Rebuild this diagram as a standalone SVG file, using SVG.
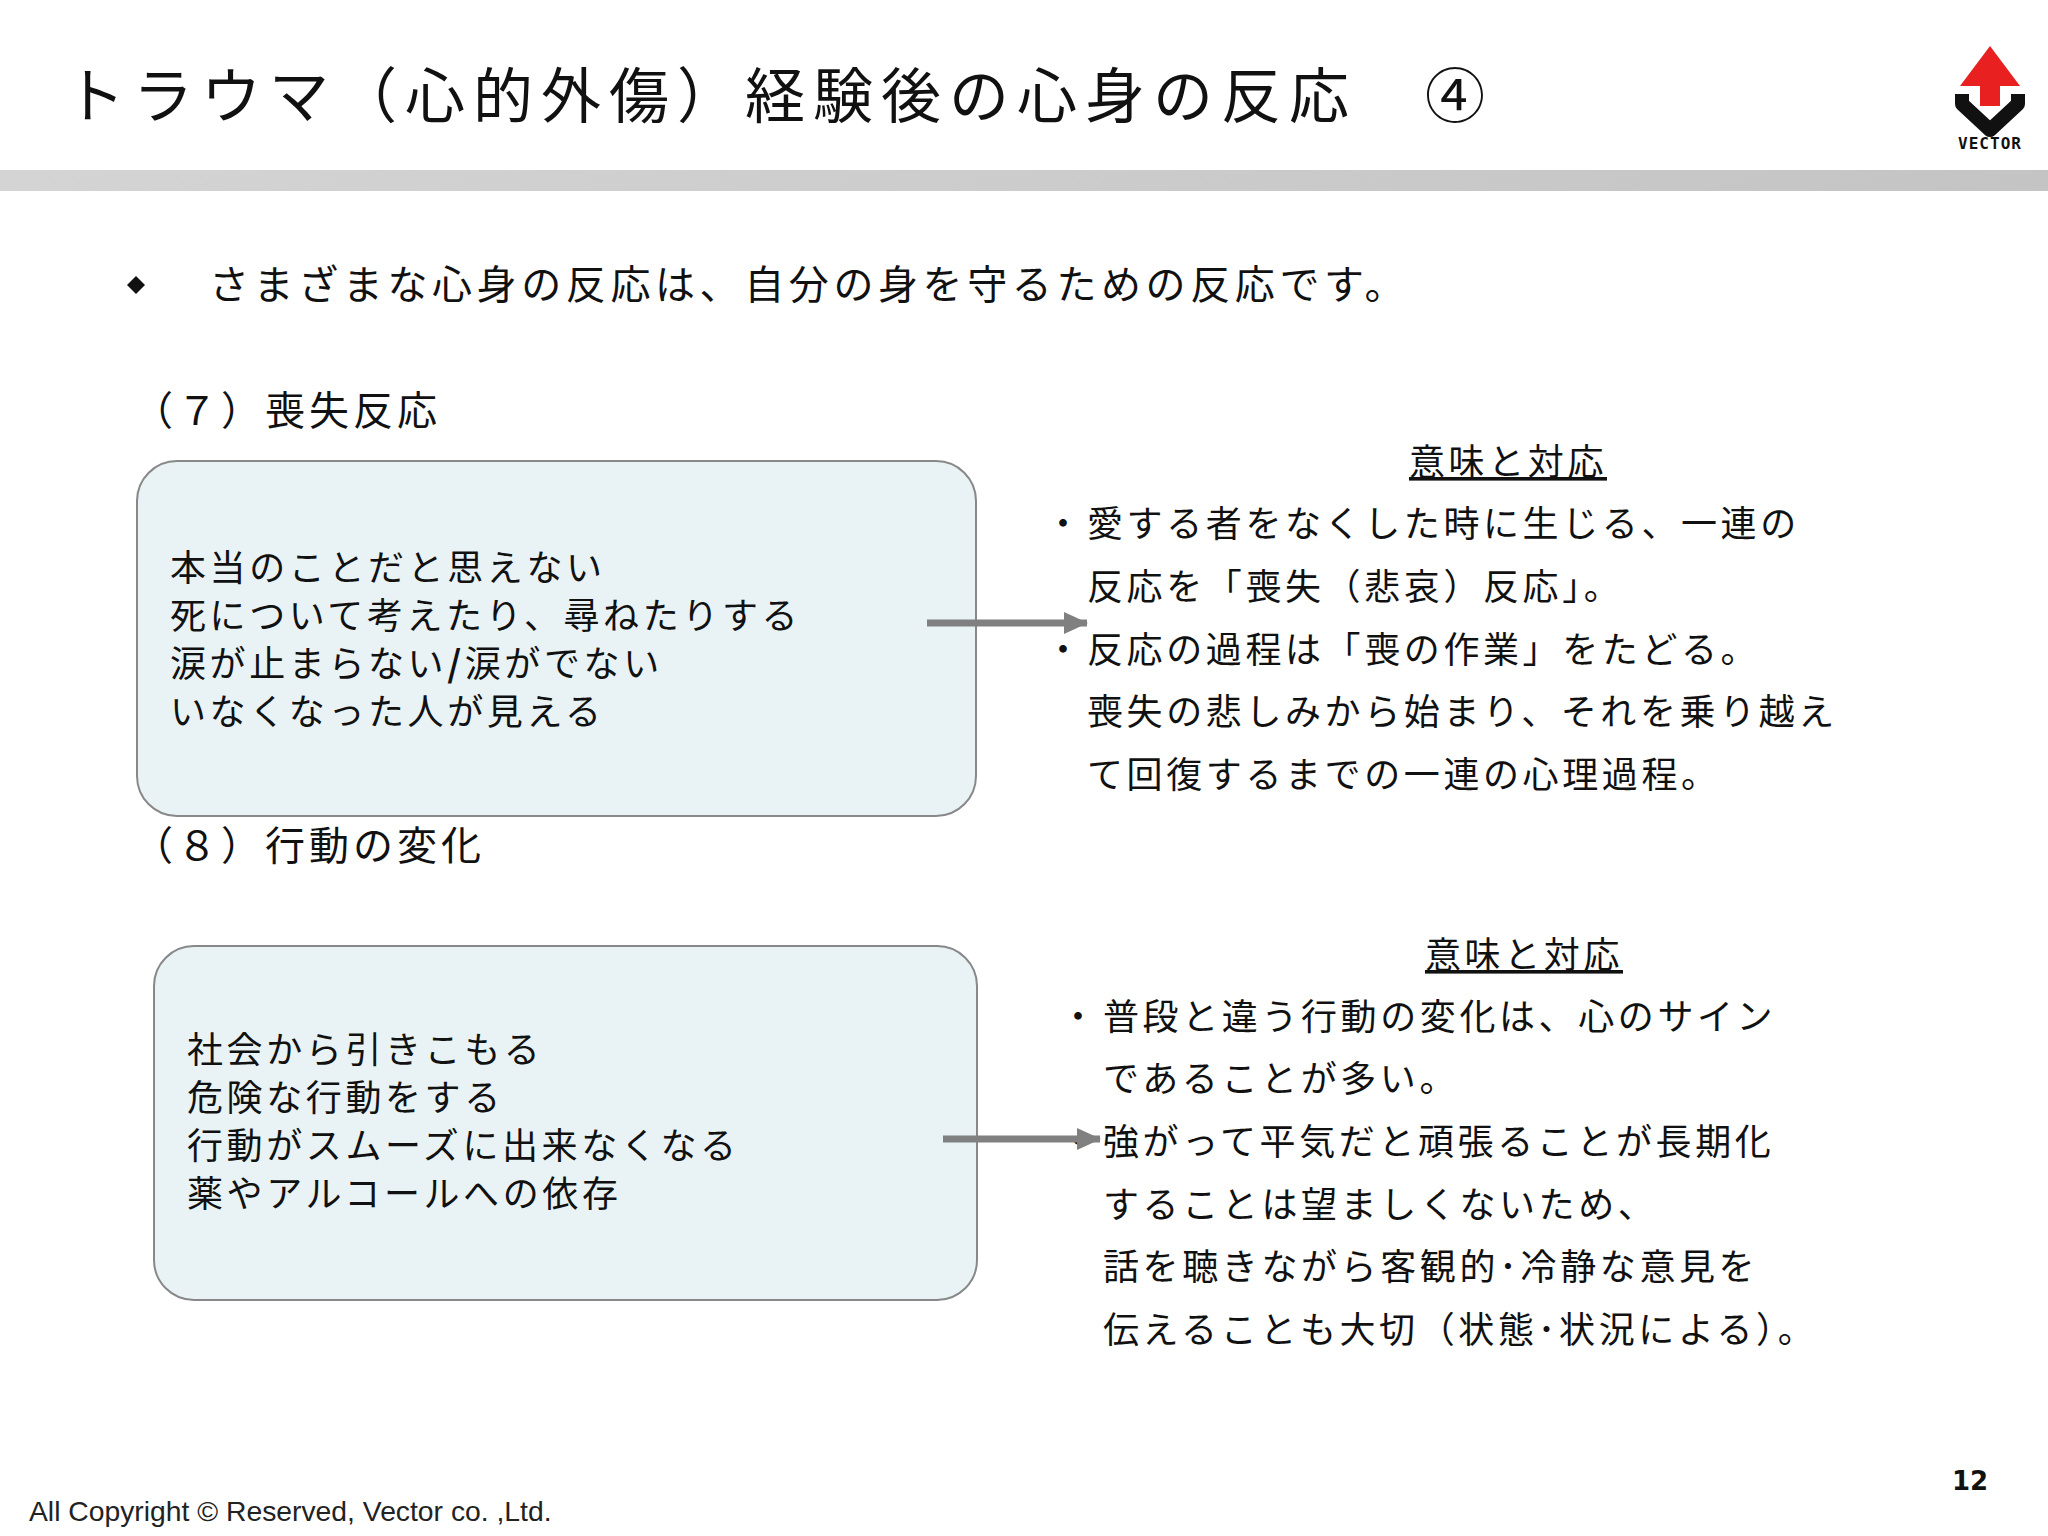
<svg xmlns="http://www.w3.org/2000/svg" width="2048" height="1536" viewBox="0 0 2048 1536">
<defs>
<linearGradient id="bar" x1="0" x2="1" y1="0" y2="0"><stop offset="0" stop-color="#d4d4d4"/><stop offset="1" stop-color="#c4c4c4"/></linearGradient>
<marker id="ah" markerWidth="24" markerHeight="22" refX="23" refY="11" orient="auto" markerUnits="userSpaceOnUse"><path d="M0,0 L24,11 L0,22 Z" fill="#808080"/></marker>
</defs>
<style>
text{font-family:"Noto Sans CJK JP","Noto Sans",sans-serif;fill:#111}
.t{font-size:60px;letter-spacing:8px}
.b{font-size:36px;letter-spacing:3.6px}
.h{font-size:40px;letter-spacing:4px}
.u{text-decoration:underline}
.box{fill:#e9f3f5;stroke:#888;stroke-width:2}
.con{stroke:#808080;stroke-width:7;fill:none}
</style>
<rect width="2048" height="1536" fill="#fff"/>
<text class="t" x="65" y="118">トラウマ（心的外傷）経験後の心身の反応　④</text>
<rect x="0" y="170" width="2048" height="21" fill="url(#bar)"/>
<g id="logo">
<polygon points="1990,46 2020,86 1960,86" fill="#e82020"/>
<rect x="1980" y="84" width="20" height="22" fill="#e82020"/>
<path d="M1962,94 L1962,104 L1990,130 L2018,104 L2018,94" fill="none" stroke="#111" stroke-width="14" stroke-linejoin="round"/>
<text x="1990" y="149" text-anchor="middle" style="font-family:'DejaVu Sans Mono',monospace;font-size:16px;font-weight:bold;letter-spacing:1px">VECTOR</text>
</g>
<polygon points="136,276 145,285 136,294 127,285" fill="#111"/>
<text x="209" y="299" style="font-size:40px;letter-spacing:4.6px">さまざまな心身の反応は、自分の身を守るための反応です。</text>
<text class="h" x="133" y="425">（７）喪失反応</text>
<text class="h" x="133" y="860">（８）行動の変化</text>
<g id="box1">
<rect class="box" x="137" y="461" width="839" height="355" rx="40"/>
<text class="b" x="170" y="581">本当のことだと思えない</text>
<text class="b" x="170" y="629">死について考えたり、尋ねたりする</text>
<text class="b" x="170" y="677">涙が止まらない<tspan font-weight="bold">/</tspan>涙がでない</text>
<text class="b" x="170" y="725">いなくなった人が見える</text>
</g>
<g id="box2">
<rect class="box" x="154" y="946" width="823" height="354" rx="40"/>
<text class="b" x="187" y="1063">社会から引きこもる</text>
<text class="b" x="187" y="1111">危険な行動をする</text>
<text class="b" x="187" y="1159">行動がスムーズに出来なくなる</text>
<text class="b" x="187" y="1207">薬やアルコールへの依存</text>
</g>
<g id="right1">
<text class="b u" x="1508" y="475" text-anchor="middle">意味と対応</text>
<text class="b" x="1045" y="537">・</text>
<text class="b" x="1087" y="537">愛する者をなくした時に生じる、一連の</text>
<text class="b" x="1087" y="600">反応を「喪失（悲哀）反応」。</text>
<text class="b" x="1045" y="663">・</text>
<text class="b" x="1087" y="663">反応の過程は「喪の作業」をたどる。</text>
<text class="b" x="1087" y="725">喪失の悲しみから始まり、それを乗り越え</text>
<text class="b" x="1087" y="788">て回復するまでの一連の心理過程。</text>
</g>
<g id="right2">
<text class="b u" x="1524" y="968" text-anchor="middle">意味と対応</text>
<text class="b" x="1060" y="1030">・</text>
<text class="b" x="1103" y="1030">普段と違う行動の変化は、心のサイン</text>
<text class="b" x="1103" y="1092">であることが多い。</text>
<text class="b" x="1060" y="1155">・</text>
<text class="b" x="1103" y="1155">強がって平気だと頑張ることが長期化</text>
<text class="b" x="1103" y="1218">することは望ましくないため、</text>
<text class="b" x="1103" y="1280">話を聴きながら客観的･冷静な意見を</text>
<text class="b" x="1103" y="1343">伝えることも大切（状態･状況による）。</text>
</g>
<g id="connectors">
<line class="con" x1="927" y1="623" x2="1087" y2="623" marker-end="url(#ah)"/>
<line class="con" x1="943" y1="1139" x2="1100" y2="1139" marker-end="url(#ah)"/>
</g>
<text x="29" y="1521" style="font-family:'Liberation Sans',Arial,sans-serif;font-size:28.3px;fill:#222">All Copyright © Reserved, Vector co. ,Ltd.</text>
<text x="1952" y="1490" style="font-family:'DejaVu Sans',sans-serif;font-size:26px;font-weight:bold">12</text>
</svg>
